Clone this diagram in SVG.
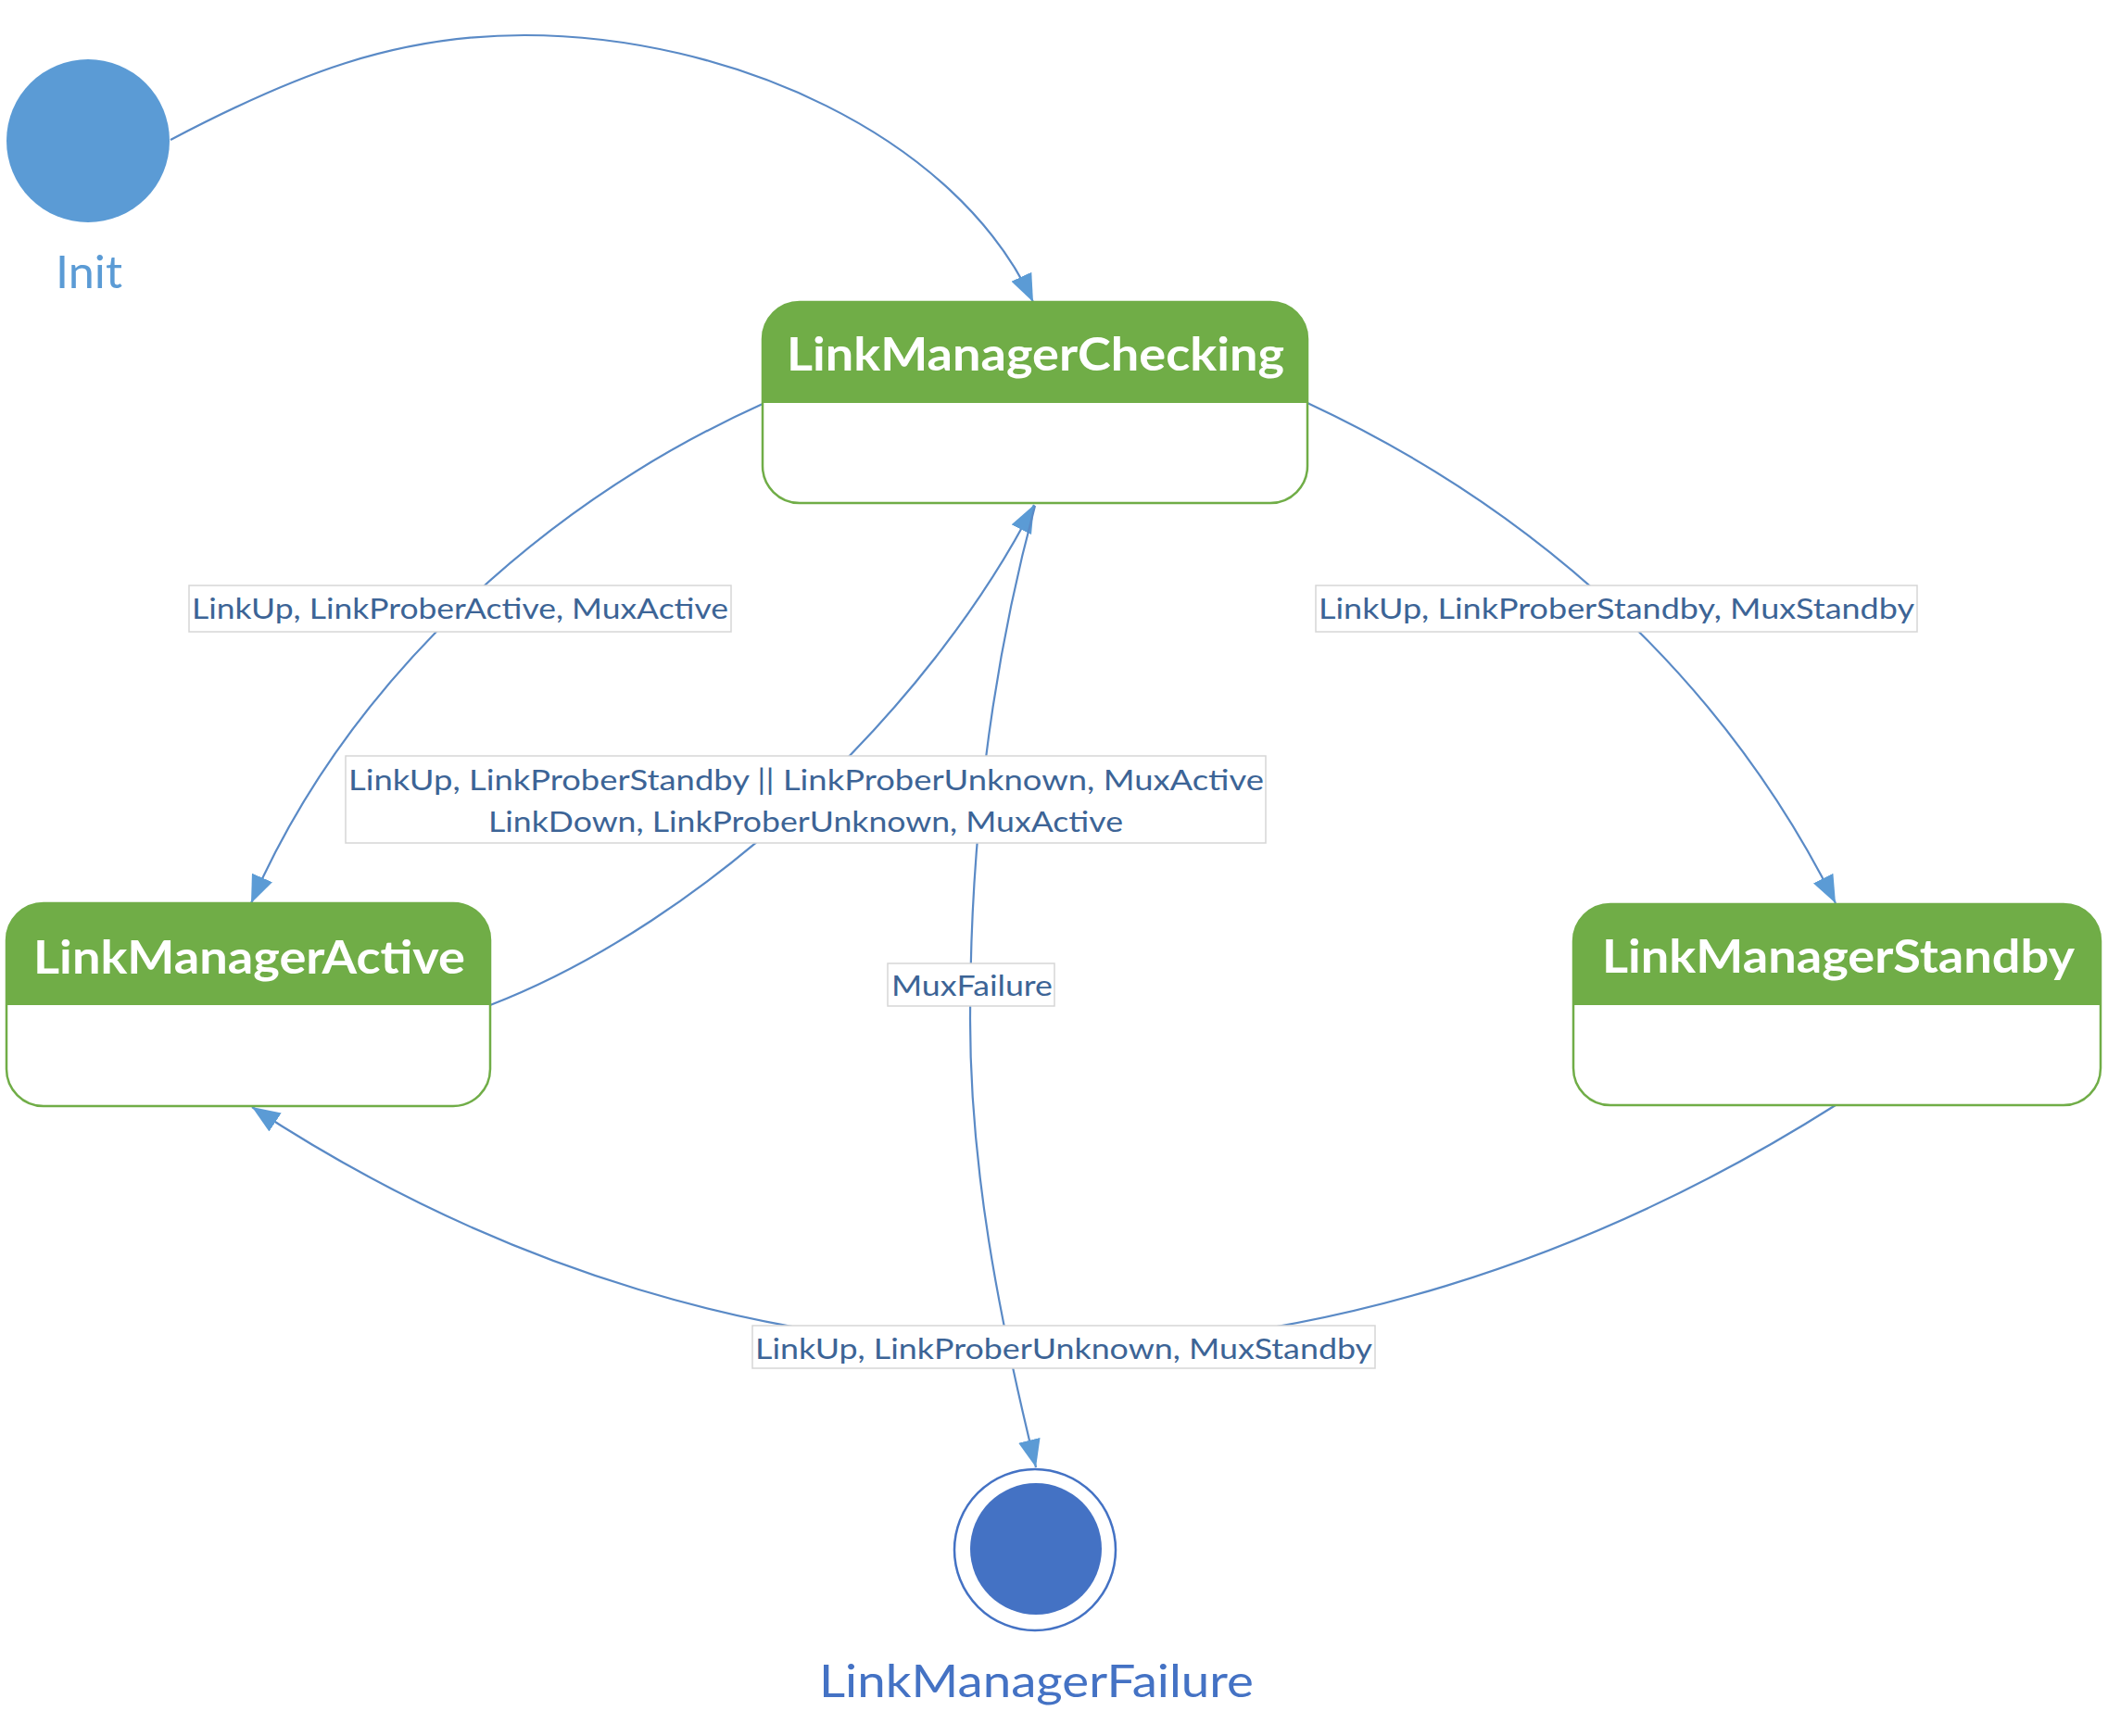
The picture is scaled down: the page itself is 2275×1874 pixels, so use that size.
<svg xmlns="http://www.w3.org/2000/svg" width="2275" height="1874" viewBox="0 0 2275 1874">
<style>
.edge{fill:none;stroke:#5A8AC6;stroke-width:2.2}
.lblbox{fill:#ffffff;stroke:#D6D6D6;stroke-width:1.5}
.lbl{font-family:Lato,"Open Sans",sans-serif;font-size:31px;fill:#3C6496}
.body{fill:#ffffff;stroke:#70AD47;stroke-width:2.5}
.head{fill:#70AD47}
.title{font-family:Lato,"Open Sans",sans-serif;font-size:50px;font-weight:bold;fill:#ffffff}
.cap{font-family:Lato,"Open Sans",sans-serif;font-size:49px}
</style>
<defs>
<marker id="arr" markerUnits="userSpaceOnUse" markerWidth="30" markerHeight="24" refX="30" refY="12" orient="auto">
<path d="M0,0 L30,12 L0,24 z" fill="#5B9BD5"/>
</marker>
</defs>
<rect width="2275" height="1874" fill="#ffffff"/>

<g id="connectors">
<path class="edge" marker-end="url(#arr)" d="M184,151 C317,81 426,38 566,38 C786,38 1031,145 1115,326"/>
<path class="edge" marker-end="url(#arr)" d="M823,436 C586,543 375,736 271,975"/>
<path class="edge" marker-end="url(#arr)" d="M1411,435 C1656,549 1860,732 1981,975"/>
<path class="edge" marker-end="url(#arr)" d="M529,1085 C762,995 1003,766 1116,545"/>
<path class="edge" marker-end="url(#arr)" d="M1117,546 C1070,720 1047,900 1047,1100 C1047,1260 1077,1417 1118,1584"/>
<path class="edge" marker-end="url(#arr)" d="M1981,1193 C1438,1537 809,1548 272,1195"/>
</g>

<g id="labels">
<g id="lbl-active">
<rect class="lblbox" x="204" y="632" width="585" height="50"/>
<text class="lbl" x="207" y="668" textLength="579" lengthAdjust="spacingAndGlyphs">LinkUp, LinkProberActive, MuxActive</text>
</g>
<g id="lbl-standby">
<rect class="lblbox" x="1420" y="632" width="649" height="50"/>
<text class="lbl" x="1423" y="668" textLength="643" lengthAdjust="spacingAndGlyphs">LinkUp, LinkProberStandby, MuxStandby</text>
</g>
<g id="lbl-checking">
<rect class="lblbox" x="373" y="816" width="993" height="94"/>
<text class="lbl" x="376" y="853" textLength="988" lengthAdjust="spacingAndGlyphs">LinkUp, LinkProberStandby || LinkProberUnknown, MuxActive</text>
<text class="lbl" x="527" y="898" textLength="685" lengthAdjust="spacingAndGlyphs">LinkDown, LinkProberUnknown, MuxActive</text>
</g>
<g id="lbl-muxfailure">
<rect class="lblbox" x="958" y="1040" width="180" height="46"/>
<text class="lbl" x="962" y="1075" textLength="174" lengthAdjust="spacingAndGlyphs">MuxFailure</text>
</g>
<g id="lbl-unknown">
<rect class="lblbox" x="812" y="1431" width="672" height="46"/>
<text class="lbl" x="815" y="1467" textLength="666" lengthAdjust="spacingAndGlyphs">LinkUp, LinkProberUnknown, MuxStandby</text>
</g>
</g>

<g id="init">
<circle cx="95" cy="152" r="88" fill="#5B9BD5"/>
<text class="cap" x="60" y="311" fill="#5B9BD5" textLength="72" lengthAdjust="spacingAndGlyphs">Init</text>
</g>

<g id="LinkManagerChecking">
<rect class="body" x="823" y="326" width="588" height="217" rx="40" ry="40"/>
<path class="head" d="M823,435 V366 A40,40 0 0 1 863,326 H1371 A40,40 0 0 1 1411,366 V435 Z"/>
<text class="title" x="849" y="400" textLength="537" lengthAdjust="spacingAndGlyphs">LinkManagerChecking</text>
</g>

<g id="LinkManagerActive">
<rect class="body" x="7" y="975" width="522" height="219" rx="40" ry="40"/>
<path class="head" d="M7,1085 V1015 A40,40 0 0 1 47,975 H489 A40,40 0 0 1 529,1015 V1085 Z"/>
<text class="title" x="36" y="1051" textLength="466" lengthAdjust="spacingAndGlyphs">LinkManagerActive</text>
</g>

<g id="LinkManagerStandby">
<rect class="body" x="1698" y="976" width="569" height="217" rx="40" ry="40"/>
<path class="head" d="M1698,1085 V1016 A40,40 0 0 1 1738,976 H2227 A40,40 0 0 1 2267,1016 V1085 Z"/>
<text class="title" x="1729" y="1050" textLength="510" lengthAdjust="spacingAndGlyphs">LinkManagerStandby</text>
</g>

<g id="LinkManagerFailure">
<circle cx="1117" cy="1673" r="87" fill="none" stroke="#4472C4" stroke-width="2.5"/>
<circle cx="1118" cy="1672" r="71" fill="#4472C4"/>
<text class="cap" x="884" y="1832" fill="#4472C4" textLength="469" lengthAdjust="spacingAndGlyphs">LinkManagerFailure</text>
</g>
</svg>
